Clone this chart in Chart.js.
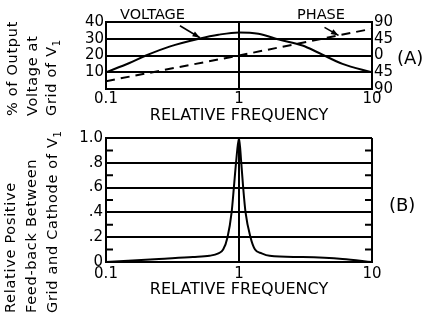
<!DOCTYPE html>
<html>
<head>
<meta charset="utf-8">
<script src="https://cdn.jsdelivr.net/npm/chart.js@4"></script>
<style>
body{margin:0;background:#fff;width:433px;height:326px;overflow:hidden;position:relative;font-family:"DejaVu Sans",sans-serif;color:#000}
canvas{position:absolute;left:0}
#chartA{top:0}
#chartB{top:120px}
.ytitle{position:absolute;transform-origin:0 0;transform:rotate(-90deg);white-space:nowrap;font-size:14.5px;letter-spacing:0.7px}
.lbl{position:absolute;white-space:nowrap;font-size:14.5px}
</style>
</head>
<body>
<canvas id="chartA" width="433" height="126"></canvas>
<canvas id="chartB" width="433" height="206"></canvas>

<div class="ytitle" style="left:3px;top:116px;line-height:19.5px">% of Output<br>Voltage at<br>Grid of V<sub style="font-size:10px">1</sub></div>
<div class="ytitle" style="left:0px;top:313px;line-height:21px">Relative Positive<br>Feed-back Between<br>Grid and Cathode of V<sub style="font-size:10px">1</sub></div>

<div class="lbl" style="left:120px;top:6px">VOLTAGE</div>
<div class="lbl" style="left:297px;top:6px">PHASE</div>
<div class="lbl" style="left:397px;top:47px;font-size:18px">(A)</div>
<div class="lbl" style="left:389px;top:194px;font-size:18px">(B)</div>

<script>
//Frequency axis ticks (log scale)
var freqTicks = [0.1, 1, 10];

//Chart (A) - output voltage and phase
var freqA = [0.1, 0.15, 0.2, 0.3, 0.5, 0.7, 1, 1.4, 2, 3, 4, 6, 10];
var voltagePct = [10, 15.5, 20, 25.3, 30, 32.4, 33.8, 33, 29.5, 26, 21.5, 15, 10];
var freqPhase = [0.1, 1, 10];
var phaseDeg = [-69, 0, 72];
var phaseLabels = ['90', '45', '0', '45', '90'];

//Chart (B) - relative positive feed-back
var freqB = [0.1, 0.25, 0.45, 0.6, 0.7, 0.76, 0.82, 0.88, 0.915, 0.95, 1.0, 1.04, 1.075, 1.12, 1.22, 1.32, 1.48, 1.7, 3, 6, 10];
var feedback = [0, 0.025, 0.04, 0.05, 0.07, 0.1, 0.2, 0.4, 0.6, 0.8, 1.0, 0.8, 0.6, 0.4, 0.2, 0.1, 0.07, 0.05, 0.04, 0.025, 0];
var feedLabels = ['0', '', '.2', '', '.4', '', '.6', '', '.8', '', '1.0'];

var ink = '#000';
var tickFont = {family: 'DejaVu Sans', size: 15};
var titleFont = {family: 'DejaVu Sans', size: 16};

function xy(xs, ys) {
  var pts = [];
  for (var i = 0; i < xs.length; i++) {
    pts.push({x: xs[i], y: ys[i]});
  }
  return pts;
}

function freqAxis(tickPad, titlePad, height) {
  return {
    type: 'logarithmic',
    min: 0.1,
    max: 10,
    afterBuildTicks: function (scale) {
      scale.ticks = freqTicks.map(function (v) { return {value: v}; });
    },
    afterFit: function (scale) { scale.height = height; },
    ticks: {
      color: ink, font: tickFont, padding: tickPad, maxRotation: 0, autoSkip: false,
      callback: function (v) { return String(v); }
    },
    grid: {color: ink, lineWidth: 2, drawTicks: false},
    border: {color: ink, width: 2},
    title: {display: true, text: 'RELATIVE FREQUENCY', color: ink, font: titleFont, padding: {top: 0, bottom: titlePad}}
  };
}

function drawArrow(ctx, x1, y1, x2, y2) {
  var a = Math.atan2(y2 - y1, x2 - x1);
  ctx.save();
  ctx.strokeStyle = ink;
  ctx.fillStyle = ink;
  ctx.lineWidth = 1.5;
  ctx.beginPath();
  ctx.moveTo(x1, y1);
  ctx.lineTo(x2, y2);
  ctx.stroke();
  ctx.beginPath();
  ctx.moveTo(x2, y2);
  ctx.lineTo(x2 - 8 * Math.cos(a - 0.35), y2 - 8 * Math.sin(a - 0.35));
  ctx.lineTo(x2 - 8 * Math.cos(a + 0.35), y2 - 8 * Math.sin(a + 0.35));
  ctx.closePath();
  ctx.fill();
  ctx.restore();
}

//Arrows from VOLTAGE / PHASE labels to their curves
var arrowsA = {
  id: 'arrowsA',
  afterDraw: function (chart) {
    var ctx = chart.ctx;
    var pt = chart.getDatasetMeta(0).data[freqA.indexOf(0.5)];
    drawArrow(ctx, pt.x - 19, pt.y - 13, pt.x + 1, pt.y - 1);

    //phase line is straight on log axis, point at f = 5.6
    var f = 5.6;
    var ph = phaseDeg[1] + (phaseDeg[2] - phaseDeg[1]) * Math.log10(f);
    var px = chart.scales.x.getPixelForValue(f);
    var py = chart.scales.yPhase.getPixelForValue(ph);
    drawArrow(ctx, px - 14, py - 8, px, py);
  }
};

//Short inward ticks on both sides at the odd tenths
var minorTicksB = {
  id: 'minorTicksB',
  afterDraw: function (chart) {
    var ctx = chart.ctx;
    var area = chart.chartArea;
    var ys = chart.scales.y;
    ctx.save();
    ctx.strokeStyle = ink;
    ctx.lineWidth = 2;
    ys.ticks.forEach(function (t, i) {
      if (i % 2 === 1) {
        var y = ys.getPixelForValue(t.value);
        ctx.beginPath();
        ctx.moveTo(area.left, y);
        ctx.lineTo(area.left + 7, y);
        ctx.moveTo(area.right - 7, y);
        ctx.lineTo(area.right, y);
        ctx.stroke();
      }
    });
    ctx.restore();
  }
};

new Chart(document.getElementById('chartA'), {
  type: 'line',
  data: {
    datasets: [{
      label: 'Voltage',
      data: xy(freqA, voltagePct),
      borderColor: ink,
      borderWidth: 2,
      pointRadius: 0,
      cubicInterpolationMode: 'monotone',
      yAxisID: 'y'
    }, {
      label: 'Phase',
      data: xy(freqPhase, phaseDeg),
      borderColor: ink,
      borderWidth: 2,
      borderDash: [9, 6],
      pointRadius: 0,
      tension: 0,
      yAxisID: 'yPhase'
    }]
  },
  options: {
    responsive: false,
    animation: false,
    layout: {padding: {top: 22, left: 0, right: 0, bottom: 0}},
    plugins: {legend: {display: false}, tooltip: {enabled: false}},
    scales: {
      x: freqAxis(1, 0.4, 37),
      y: {
        position: 'left',
        min: 0, max: 40,
        afterFit: function (scale) { scale.width = 106; },
        ticks: {
          stepSize: 10, color: ink, font: tickFont, padding: 2, autoSkip: false,
          callback: function (v) { return v === 0 ? '' : String(v); }
        },
        grid: {color: ink, lineWidth: 2, drawTicks: false},
        border: {color: ink, width: 2}
      },
      yPhase: {
        position: 'right',
        min: -90, max: 90,
        afterFit: function (scale) { scale.width = 61; },
        ticks: {
          stepSize: 45, color: ink, font: tickFont, padding: 2, autoSkip: false,
          callback: function (v, i) { return phaseLabels[i]; }
        },
        grid: {display: false, drawTicks: false},
        border: {color: ink, width: 2}
      }
    }
  },
  plugins: [arrowsA]
});

new Chart(document.getElementById('chartB'), {
  type: 'line',
  data: {
    datasets: [{
      label: 'Feed-back',
      data: xy(freqB, feedback),
      borderColor: ink,
      borderWidth: 2,
      pointRadius: 0,
      cubicInterpolationMode: 'monotone'
    }]
  },
  options: {
    responsive: false,
    animation: false,
    layout: {padding: {top: 18, left: 0, right: 61, bottom: 0}},
    plugins: {legend: {display: false}, tooltip: {enabled: false}},
    scales: {
      x: freqAxis(3, 26.4, 64),
      y: {
        min: 0, max: 1,
        afterFit: function (scale) { scale.width = 106; },
        ticks: {
          stepSize: 0.1, color: ink, font: tickFont, padding: 3, autoSkip: false,
          callback: function (v, i) { return feedLabels[i]; }
        },
        grid: {
          lineWidth: 2, drawTicks: false,
          color: function (c) { return c.index % 2 === 0 ? ink : 'rgba(0,0,0,0)'; }
        },
        border: {color: ink, width: 2}
      }
    }
  },
  plugins: [minorTicksB]
});
</script>
</body>
</html>
